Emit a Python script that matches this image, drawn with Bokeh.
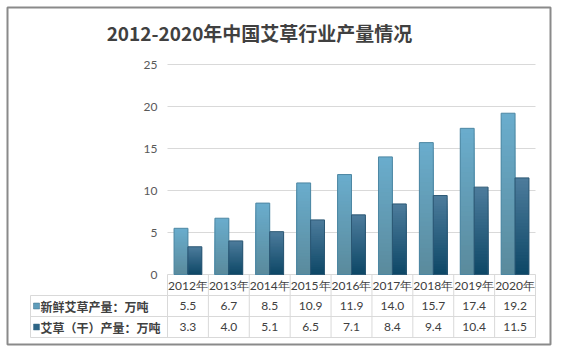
import numpy as np
from bokeh.plotting import figure
from bokeh.models import Range1d
from bokeh.core.properties import value
from bokeh.embed import file_html
from bokeh.resources import INLINE

# ---- data ----
years = ["2012年", "2013年", "2014年", "2015年", "2016年", "2017年", "2018年", "2019年", "2020年"]
fresh = [5.5, 6.7, 8.5, 10.9, 11.9, 14.0, 15.7, 17.4, 19.2]
dry = [3.3, 4.0, 5.1, 6.5, 7.1, 8.4, 9.4, 10.4, 11.5]
series_names = ["新鲜艾草产量：万吨", "艾草（干）产量：万吨"]
y_ticks = [0, 5, 10, 15, 20, 25]
title_text = "2012-2020年中国艾草行业产量情况"

# ---- layout (pixels) ----
W, H = 563, 353
FL, FR, FT, FB = 7, 550, 7, 344          # outer frame box
PX0, PX1, PY0, PY1 = 167, 535, 274, 64   # plot area
n = len(years)
ymax = y_ticks[-1]
cw = (PX1 - PX0) / n
ku = (PY0 - PY1) / ymax


def xd(px):
    return (px - PX0) / cw


def yd(py):
    return (PY0 - py) / ku


p = figure(width=W, height=H, x_range=Range1d(xd(FL), xd(FR)), y_range=Range1d(yd(FB), yd(FT)),
           output_backend="svg", toolbar_location=None, title=None,
           x_axis_location=None, y_axis_location=None,
           min_border_left=FL, min_border_right=W - FR, min_border_top=FT, min_border_bottom=H - FB)
p.xgrid.visible = False
p.ygrid.visible = False
p.outline_line_color = "#8a8a8a"
p.outline_line_width = 2
p.background_fill_color = "white"
p.border_fill_color = "white"

grid_col = "#d9d9d9"
text_col = "#404040"

# gridlines
p.segment(x0=[0] * len(y_ticks), x1=[n] * len(y_ticks), y0=y_ticks, y1=y_ticks,
          line_color=grid_col, line_width=1)

# y tick labels
p.text(x=[0] * len(y_ticks), y=y_ticks, text=[str(t) for t in y_ticks], x_offset=-10,
       text_align="right", text_baseline="middle", text_font=value("Lato"),
       text_font_size="12px", text_color="#595959")


def hex2rgb(h):
    h = h.lstrip("#")
    return np.array([int(h[i:i + 2], 16) for i in (0, 2, 4)], dtype=float)


def rgb2hex(c):
    return "#%02x%02x%02x" % tuple(int(round(v)) for v in c)


bw = 0.34
series = [
    (fresh, -bw, 0.0, "#6aadcd", "#5a8a9c", "#4d87a3"),
    (dry, 0.0, bw, "#4d7c9c", "#0d4766", "#2c5874"),
]
N = 30
for vals, o0, o1, ctop, cbot, edge in series:
    ct, cb = hex2rgb(ctop), hex2rgb(cbot)
    L, R, T, B, C = [], [], [], [], []
    for k in range(N):
        t = (k + 0.5) / N
        col = rgb2hex(ct * (1 - t) + cb * t)
        for i, v in enumerate(vals):
            L.append(i + 0.5 + o0)
            R.append(i + 0.5 + o1)
            B.append(0)
            T.append(v * (N - k) / N)
            C.append(col)
    p.quad(left=L, right=R, top=T, bottom=B, fill_color=C, line_color=None)
    p.quad(left=[i + 0.5 + o0 for i in range(n)], right=[i + 0.5 + o1 for i in range(n)],
           top=vals, bottom=[0] * n, fill_color=None, line_color=edge, line_width=1)

# ---- data table ----
row_h = 21 / ku
xl = xd(30)
hy = [-row_h, -2 * row_h, -3 * row_h]
p.segment(x0=[xl] * 3, x1=[n] * 3, y0=hy, y1=hy, line_color=grid_col, line_width=1)
p.segment(x0=list(range(n + 1)), x1=list(range(n + 1)), y0=[0] * (n + 1), y1=[-3 * row_h] * (n + 1),
          line_color=grid_col, line_width=1)
p.segment(x0=[xl], x1=[xl], y0=[-row_h], y1=[-3 * row_h], line_color=grid_col, line_width=1)

xs = [i + 0.5 for i in range(n)]
p.text(x=xs, y=[-0.5 * row_h] * n, text=years, text_align="center", text_baseline="middle",
       text_font=value("Lato"), text_font_size="12px", text_color=text_col)
for r, vals in enumerate([fresh, dry]):
    p.text(x=xs, y=[-(r + 1.5) * row_h] * n, text=["%.1f" % v for v in vals], text_align="center",
           text_baseline="middle", text_font=value("Lato"), text_font_size="12px", text_color=text_col)

mk_cols = ["#5f9dbb", "#2d6586"]
ry = [-1.5 * row_h, -2.5 * row_h]
p.quad(left=[xd(33)] * 2, right=[xd(39)] * 2, top=[y + 3 / ku for y in ry], bottom=[y - 3 / ku for y in ry],
       fill_color=mk_cols, line_color="#3f6f8a", line_width=0.5)
p.text(x=[xd(40)] * 2, y=ry, text=series_names, text_align="left", text_baseline="middle",
       text_font=value("Noto Sans CJK SC"), text_font_style="bold", text_font_size="12px",
       text_color=text_col)

# title
p.text(x=[xd(259)], y=[yd(32)], text=[title_text], text_align="center", text_baseline="middle",
       text_font=value("Noto Sans CJK SC"), text_font_style="bold", text_font_size="19px",
       text_color=text_col)

open("out.html", "w").write(file_html(p, INLINE))
